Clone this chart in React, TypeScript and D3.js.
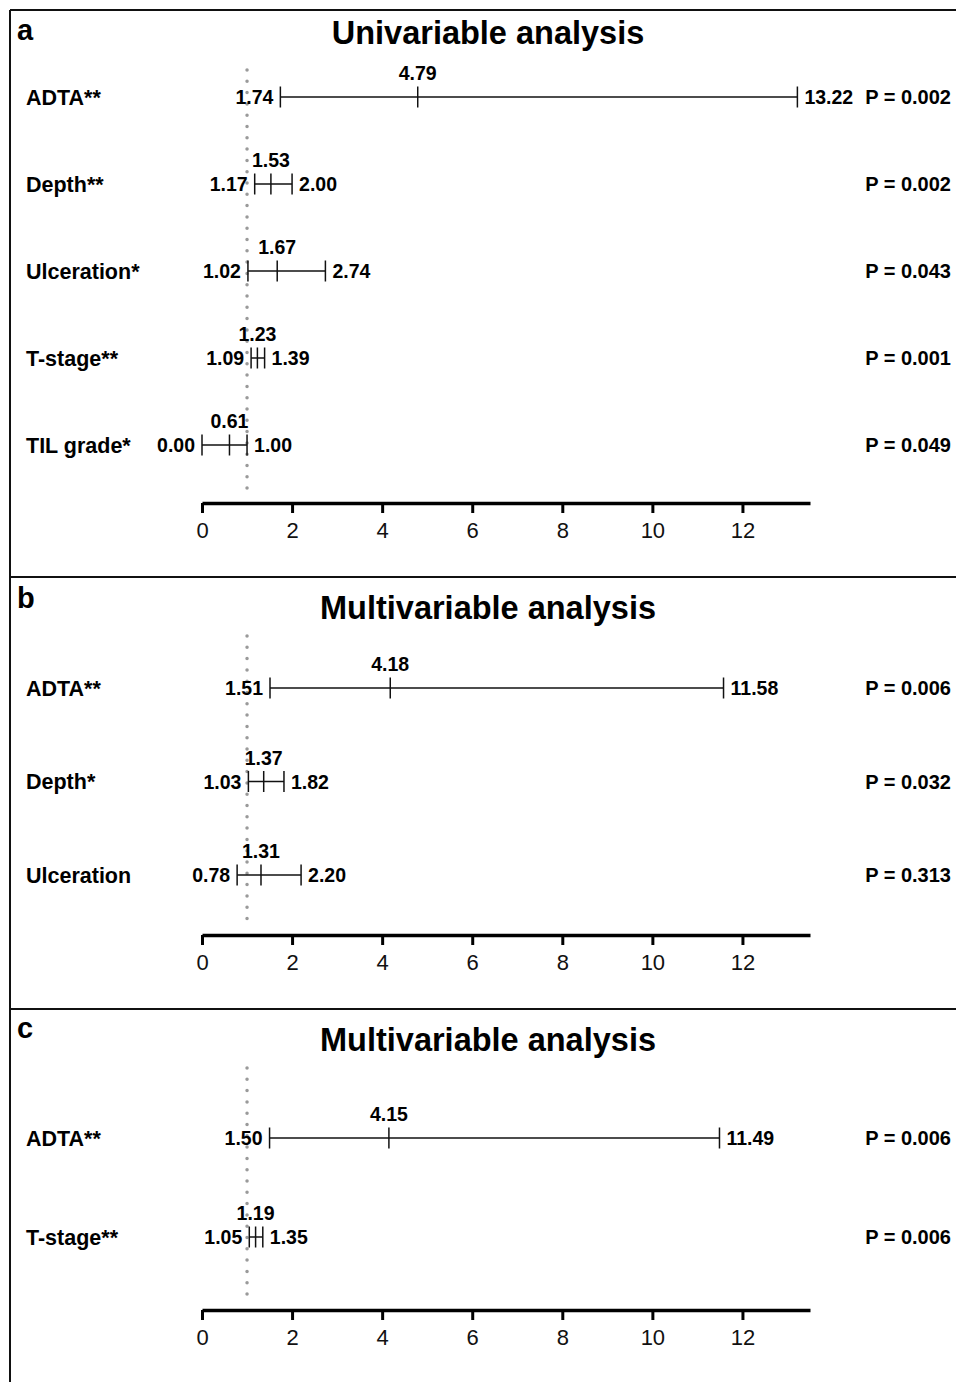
import React, { useEffect, useRef } from "react";
import * as d3 from "d3";

// panel a - univariable
const labelsA = ["ADTA**", "Depth**", "Ulceration*", "T-stage**", "TIL grade*"];
const hrA = [4.79, 1.53, 1.67, 1.23, 0.61];
const lowA = [1.74, 1.17, 1.02, 1.09, 0.0];
const highA = [13.22, 2.0, 2.74, 1.39, 1.0];
const pA = ["0.002", "0.002", "0.043", "0.001", "0.049"];

// panel b - multivariable
const labelsB = ["ADTA**", "Depth*", "Ulceration"];
const hrB = [4.18, 1.37, 1.31];
const lowB = [1.51, 1.03, 0.78];
const highB = [11.58, 1.82, 2.2];
const pB = ["0.006", "0.032", "0.313"];

// panel c - multivariable
const labelsC = ["ADTA**", "T-stage**"];
const hrC = [4.15, 1.19];
const lowC = [1.5, 1.05];
const highC = [11.49, 1.35];
const pC = ["0.006", "0.006"];

const xTicks = [0, 2, 4, 6, 8, 10, 12];

const FONT = "'Liberation Sans', Arial, Helvetica, sans-serif";

const drawChart = (el: SVGSVGElement) => {
  const width = 956;
  const height = 1382;
  const svg = d3.select(el);
  svg.selectAll("*").remove();

  const x = d3.scaleLinear().domain([0, 13.5]).range([202, 810]);

  // frame + dividers
  const frame = svg.append("g").attr("stroke", "#111").attr("stroke-width", 2);
  frame.append("line").attr("x1", 10).attr("x2", width).attr("y1", 10).attr("y2", 10);
  frame.append("line").attr("x1", 10).attr("x2", 10).attr("y1", 10).attr("y2", height);
  frame.append("line").attr("x1", 10).attr("x2", width).attr("y1", 577).attr("y2", 577);
  frame.append("line").attr("x1", 10).attr("x2", width).attr("y1", 1009).attr("y2", 1009);

  const panels = [
    { letter: "a", title: "Univariable analysis", top: 10, letterY: 40, titleY: 44,
      rows: [97, 445], refTop: 70, axisY: 503,
      labels: labelsA, hr: hrA, low: lowA, high: highA, p: pA },
    { letter: "b", title: "Multivariable analysis", top: 577, letterY: 608, titleY: 619,
      rows: [688, 875], refTop: 636, axisY: 935,
      labels: labelsB, hr: hrB, low: lowB, high: highB, p: pB },
    { letter: "c", title: "Multivariable analysis", top: 1009, letterY: 1038, titleY: 1051,
      rows: [1138, 1237], refTop: 1068, axisY: 1310,
      labels: labelsC, hr: hrC, low: lowC, high: highC, p: pC },
  ];

  panels.forEach((pn) => {
    const g = svg.append("g").attr("font-family", FONT);

    g.append("text")
      .attr("x", 17)
      .attr("y", pn.letterY)
      .attr("font-size", 29)
      .attr("font-weight", "bold")
      .text(pn.letter);

    g.append("text")
      .attr("x", 488)
      .attr("y", pn.titleY)
      .attr("text-anchor", "middle")
      .attr("font-size", 32.5)
      .attr("font-weight", "bold")
      .text(pn.title);

    const y = d3
      .scalePoint<number>()
      .domain(d3.range(pn.labels.length))
      .range(pn.rows);

    // reference line at HR = 1
    g.append("line")
      .attr("x1", x(1))
      .attr("x2", x(1))
      .attr("y1", pn.refTop)
      .attr("y2", pn.axisY - 6)
      .attr("stroke", "#9a9a9a")
      .attr("stroke-width", 3.5)
      .attr("stroke-linecap", "round")
      .attr("stroke-dasharray", "0 11.3");

    const rows = g
      .selectAll("g.row")
      .data(pn.labels)
      .enter()
      .append("g")
      .attr("class", "row")
      .attr("transform", (d, i) => `translate(0,${y(i)})`);

    rows
      .append("text")
      .attr("x", 26)
      .attr("dy", "0.36em")
      .attr("font-size", 21.5)
      .attr("font-weight", "bold")
      .text((d) => d);

    rows
      .append("line")
      .attr("x1", (d, i) => x(pn.low[i]))
      .attr("x2", (d, i) => x(pn.high[i]))
      .attr("stroke", "#111")
      .attr("stroke-width", 1.5);

    const caps = [
      (i: number) => pn.low[i],
      (i: number) => pn.hr[i],
      (i: number) => pn.high[i],
    ];
    caps.forEach((fn) => {
      rows
        .append("line")
        .attr("x1", (d, i) => x(fn(i)))
        .attr("x2", (d, i) => x(fn(i)))
        .attr("y1", -10.5)
        .attr("y2", 10.5)
        .attr("stroke", "#111")
        .attr("stroke-width", 1.5);
    });

    rows
      .append("text")
      .attr("x", (d, i) => x(pn.hr[i]))
      .attr("y", -24)
      .attr("dy", "0.36em")
      .attr("text-anchor", "middle")
      .attr("font-size", 19.5)
      .attr("font-weight", "bold")
      .text((d, i) => pn.hr[i].toFixed(2));

    rows
      .append("text")
      .attr("x", (d, i) => x(pn.low[i]) - 7)
      .attr("dy", "0.36em")
      .attr("text-anchor", "end")
      .attr("font-size", 19.5)
      .attr("font-weight", "bold")
      .text((d, i) => pn.low[i].toFixed(2));

    rows
      .append("text")
      .attr("x", (d, i) => x(pn.high[i]) + 7)
      .attr("dy", "0.36em")
      .attr("font-size", 19.5)
      .attr("font-weight", "bold")
      .text((d, i) => pn.high[i].toFixed(2));

    rows
      .append("text")
      .attr("x", 951)
      .attr("dy", "0.36em")
      .attr("text-anchor", "end")
      .attr("font-size", 20)
      .attr("font-weight", "bold")
      .text((d, i) => `P = ${pn.p[i]}`);

    // x axis
    const ax = g
      .append("g")
      .attr("transform", `translate(0,${pn.axisY})`)
      .call(
        d3
          .axisBottom(x)
          .tickValues(xTicks)
          .tickSize(10)
          .tickSizeOuter(0)
          .tickPadding(9)
          .tickFormat(d3.format("d"))
      );
    ax.select(".domain").attr("stroke", "#000").attr("stroke-width", 3.5);
    ax.selectAll(".tick line").attr("stroke", "#000").attr("stroke-width", 3);
    ax.selectAll(".tick text")
      .attr("font-family", FONT)
      .attr("font-size", 22)
      .attr("fill", "#111");
  });
};

export default function App() {
  const ref = useRef<SVGSVGElement>(null);
  useEffect(() => {
    if (ref.current) drawChart(ref.current);
  }, []);
  return (
    <svg
      ref={ref}
      width={956}
      height={1382}
      style={{ position: "absolute", left: 0, top: 0, background: "#fff" }}
    />
  );
}
